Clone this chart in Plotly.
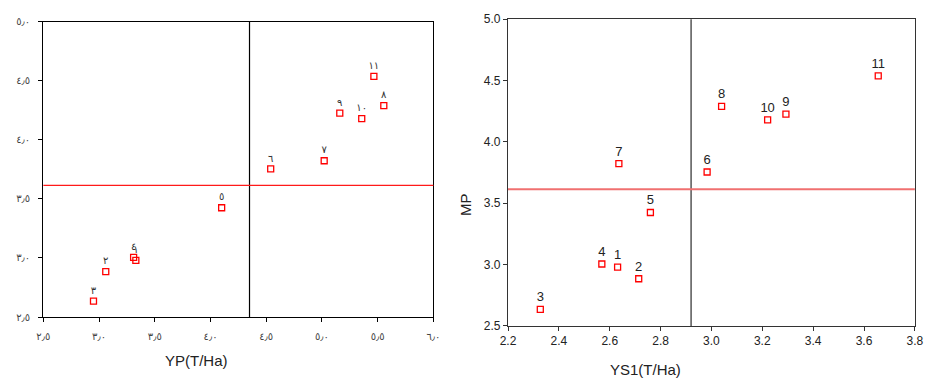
import plotly.graph_objects as go

# ---- data ----
genotypes = [1, 2, 3, 4, 5, 6, 7, 8, 9, 10, 11]
labels_ar = ["١", "٢", "٣", "٤", "٥", "٦", "٧", "٨", "٩", "١٠", "١١"]
labels_en = ["1", "2", "3", "4", "5", "6", "7", "8", "9", "10", "11"]
YP = [3.33, 3.06, 2.95, 3.31, 4.10, 4.54, 5.02, 5.555, 5.16, 5.357, 5.466]
YS1 = [2.631, 2.714, 2.327, 2.569, 2.760, 2.983, 2.636, 3.040, 3.293, 3.221, 3.656]
MP = [2.98, 2.885, 2.635, 3.005, 3.425, 3.755, 3.823, 4.29, 4.226, 4.18, 4.538]

YP_ref = 4.35
YS1_ref = 2.92
MP_ref = 3.615

left_x_ticks = [2.5, 3.0, 3.5, 4.0, 4.5, 5.0, 5.5, 6.0]
left_x_ticktext = ["٢٫٥", "٣٫٠", "٣٫٥", "٤٫٠", "٤٫٥", "٥٫٠", "٥٫٥", "٦٫٠"]
left_y_ticks = [2.5, 3.0, 3.5, 4.0, 4.5, 5.0]
left_y_ticktext = ["٢٫٥", "٣٫٠", "٣٫٥", "٤٫٠", "٤٫٥", "٥٫٠"]
right_x_ticks = [2.2, 2.4, 2.6, 2.8, 3.0, 3.2, 3.4, 3.6, 3.8]
right_y_ticks = [2.5, 3.0, 3.5, 4.0, 4.5, 5.0]

W, H = 932, 385

fig = go.Figure()

fig.add_trace(go.Scatter(
    x=YP, y=MP, mode="markers+text", text=labels_ar, textposition="top center",
    textfont=dict(family="DejaVu Sans", size=10, color="#333333"),
    marker=dict(symbol="square-open", size=6, color="red", line=dict(width=1.3, color="red")),
    xaxis="x", yaxis="y", showlegend=False, cliponaxis=False,
))
fig.add_trace(go.Scatter(
    x=YS1, y=MP, mode="markers+text", text=labels_en, textposition="top center",
    textfont=dict(family="Liberation Sans, Arial", size=13, color="#222222"),
    marker=dict(symbol="square-open", size=6, color="red", line=dict(width=1.3, color="red")),
    xaxis="x2", yaxis="y2", showlegend=False, cliponaxis=False,
))

left_xd = [36 / W, 433.3 / W]
left_yd = [1 - 321.7 / H, 1 - 15.3 / H]
right_xd = [509.3 / W, 923.7 / W]
right_yd = [1 - 331 / H, 1 - 12.7 / H]

axis_common = dict(showgrid=False, zeroline=False, showline=True, mirror=True,
                   ticks="outside", ticklen=4)

fig.update_layout(
    width=W, height=H, margin=dict(l=0, r=0, t=0, b=0),
    paper_bgcolor="white", plot_bgcolor="white",
    font=dict(family="Liberation Sans, Arial"),
    xaxis=dict(domain=left_xd, range=[2.5, 6.0], tickvals=left_x_ticks, ticktext=left_x_ticktext,
               anchor="y", linecolor="black", linewidth=1.2, tickcolor="black", ticklabelstandoff=6,
               tickfont=dict(family="DejaVu Sans", size=10, color="#444444"), **axis_common),
    yaxis=dict(domain=left_yd, range=[2.5, 5.0], tickvals=left_y_ticks, ticktext=left_y_ticktext,
               anchor="x", linecolor="black", linewidth=1.2, tickcolor="black", ticklabelstandoff=6,
               tickfont=dict(family="DejaVu Sans", size=10, color="#444444"), **axis_common),
    xaxis2=dict(domain=right_xd, range=[2.2, 3.8], tickvals=right_x_ticks, tickformat=".1f",
                anchor="y2", linecolor="#333333", linewidth=1.2, tickcolor="#333333",
                tickfont=dict(size=12, color="#222222"), **axis_common),
    yaxis2=dict(domain=right_yd, range=[2.5, 5.0], tickvals=right_y_ticks, tickformat=".1f",
                anchor="x2", linecolor="#333333", linewidth=1.2, tickcolor="#333333",
                tickfont=dict(size=12, color="#222222"), **axis_common),
    shapes=[
        dict(type="line", xref="x", yref="y domain", x0=YP_ref, x1=YP_ref, y0=0, y1=1,
             line=dict(color="black", width=1.2)),
        dict(type="line", xref="x domain", yref="y", x0=0, x1=1, y0=MP_ref, y1=MP_ref,
             line=dict(color="#ff1a1a", width=1.2)),
        dict(type="line", xref="x2", yref="y2 domain", x0=YS1_ref, x1=YS1_ref, y0=0, y1=1,
             line=dict(color="#555555", width=1.5)),
        dict(type="line", xref="x2 domain", yref="y2", x0=0, x1=1, y0=MP_ref, y1=MP_ref,
             line=dict(color="#f07070", width=2)),
    ],
    annotations=[
        dict(text="YP(T/Ha)", xref="paper", yref="paper", x=192 / W, y=1 - 367 / H,
             showarrow=False, font=dict(size=15, color="#222222"), xanchor="center", yanchor="middle"),
        dict(text="YS1(T/Ha)", xref="paper", yref="paper", x=649 / W, y=1 - 376 / H,
             showarrow=False, font=dict(size=15, color="#222222"), xanchor="center", yanchor="middle"),
        dict(text="MP", xref="paper", yref="paper", x=466 / W, y=1 - 205 / H, textangle=-90,
             showarrow=False, font=dict(size=15, color="#222222"), xanchor="center", yanchor="middle"),
    ],
)

fig.write_html(
    "out.html",
    config={"displayModeBar": False},
    post_script="document.body.style.margin='0';document.body.style.padding='0';"
                "document.body.style.overflow='hidden';",
)
